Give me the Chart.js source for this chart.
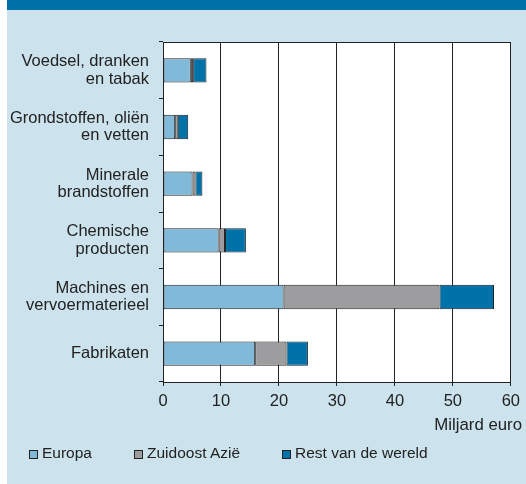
<!DOCTYPE html>
<html>
<head>
<meta charset="utf-8">
<script src="https://cdn.jsdelivr.net/npm/chart.js@4/dist/chart.umd.min.js"></script>
<style>
  html, body { margin: 0; padding: 0; background: #ffffff; }
  #wrap { position: relative; width: 526px; height: 484px; overflow: hidden; }
  #bg { position: absolute; left: 7px; top: 0; width: 519px; height: 484px; background: #cce2ec; }
  #topbar { position: absolute; left: 7px; top: 0; width: 519px; height: 10px; background: #0072aa; }
  #plotbg { position: absolute; background: #ffffff; }
  #cv { position: absolute; left: 0; top: 0; }
  .txt { position: absolute; font-family: "Liberation Sans", Arial, sans-serif; color: #222; white-space: nowrap; }
  #unit { right: 4px; top: 415px; font-size: 16.8px; line-height: 20px; }
  .leg { position: absolute; top: 443px; height: 20px; font-family: "Liberation Sans", Arial, sans-serif; font-size: 15.5px; line-height: 20px; color: #222; white-space: nowrap; }
  .leg i { display: inline-block; width: 7px; height: 7px; border: 1px solid #222; margin-right: 4px; vertical-align: -1px; }
</style>
</head>
<body>
<div id="wrap">
  <div id="bg"></div>
  <div id="topbar"></div>
  <div id="plotbg"></div>
  <canvas id="cv" width="526" height="484"></canvas>
  <div id="unit" class="txt"></div>
  <div id="legend"></div>
</div>
<script>
const categories = [
  ["Voedsel, dranken", "en tabak"],
  ["Grondstoffen, oliën", "en vetten"],
  ["Minerale", "brandstoffen"],
  ["Chemische", "producten"],
  ["Machines en", "vervoermaterieel"],
  ["Fabrikaten"]
];
const seriesNames = ["Europa", "Zuidoost Azië", "Rest van de wereld"];
const europa   = [4.8, 2.1, 5.1, 9.6, 20.8, 15.9];
const zuidoost = [0.4, 0.45, 0.5, 1.1, 26.9, 5.4];
const rest     = [2.3, 1.8, 1.2, 3.6, 9.4, 3.7];
const xTicks = [0, 10, 20, 30, 40, 50, 60];
const unitLabel = "Miljard euro";

const colors = ["#80bad8", "#9d9d9f", "#0072aa"];
const seriesValues = [europa, zuidoost, rest];

const frame = {
  id: 'frame',
  beforeDraw(chart) {
    const a = chart.chartArea, ctx = chart.ctx;
    ctx.save();
    ctx.fillStyle = '#ffffff';
    ctx.fillRect(a.left, a.top, a.right - a.left, a.bottom - a.top);
    ctx.restore();
  },
  afterDatasetsDraw(chart) {
    const a = chart.chartArea, ctx = chart.ctx;
    ctx.save();
    ctx.strokeStyle = '#222';
    ctx.lineWidth = 1;
    ctx.beginPath();
    ctx.moveTo(a.left, a.top + 0.5);
    ctx.lineTo(a.right, a.top + 0.5);
    ctx.stroke();
    ctx.restore();
  }
};

const chart = new Chart(document.getElementById('cv'), {
  type: 'bar',
  data: {
    labels: categories,
    datasets: seriesNames.map((n, i) => ({
      label: n,
      data: seriesValues[i],
      backgroundColor: colors[i],
      borderColor: '#222',
      borderWidth: 1,
      borderSkipped: false,
      barPercentage: 0.43,
      categoryPercentage: 1
    }))
  },
  options: {
    indexAxis: 'y',
    responsive: false,
    animation: false,
    layout: { padding: { top: 42, right: 12.8, bottom: 46, left: 0 } },
    plugins: { legend: { display: false }, tooltip: { enabled: false } },
    scales: {
      x: {
        stacked: true,
        min: 0, max: 60,
        afterBuildTicks: s => { s.ticks = xTicks.map(v => ({ value: v })); },
        afterFit: s => { s.height = 56; },
        grid: { color: '#222', lineWidth: 1, tickLength: 4, drawOnChartArea: true },
        border: { color: '#222', width: 1 },
        ticks: { color: '#222', padding: 6, font: { family: '"Liberation Sans", Arial, sans-serif', size: 16.5 } }
      },
      y: {
        stacked: true,
        afterFit: s => { s.width = 163; },
        grid: { offset: true, color: '#222', lineWidth: 1, tickLength: 4, drawOnChartArea: false },
        border: { color: '#222', width: 1 },
        ticks: { color: '#222', padding: 10, font: { family: '"Liberation Sans", Arial, sans-serif', size: 16.5, lineHeight: 1.05 } }
      }
    }
  },
  plugins: [frame]
});

const ca = chart.chartArea;
const pb = document.getElementById('plotbg');
pb.style.left = ca.left + 'px';
pb.style.top = ca.top + 'px';
pb.style.width = (ca.right - ca.left) + 'px';
pb.style.height = (ca.bottom - ca.top) + 'px';

document.getElementById('unit').textContent = unitLabel;
const legLeft = [29, 134, 282];
const legend = document.getElementById('legend');
seriesNames.forEach((n, i) => {
  const d = document.createElement('div');
  d.className = 'leg';
  d.style.left = legLeft[i] + 'px';
  const b = document.createElement('i');
  b.style.background = colors[i];
  d.appendChild(b);
  d.appendChild(document.createTextNode(n));
  legend.appendChild(d);
});
</script>
</body>
</html>
